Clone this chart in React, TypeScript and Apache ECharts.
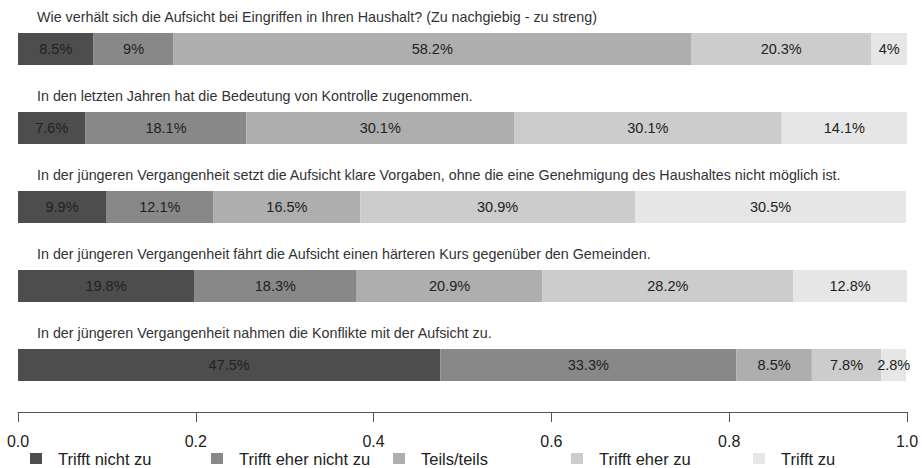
import React, { useEffect, useRef } from "react";
import * as echarts from "echarts";

const questions = [
  "Wie verhält sich die Aufsicht bei Eingriffen in Ihren Haushalt? (Zu nachgiebig - zu streng)",
  "In den letzten Jahren hat die Bedeutung von Kontrolle zugenommen.",
  "In der jüngeren Vergangenheit setzt die Aufsicht klare Vorgaben, ohne die eine Genehmigung des Haushaltes nicht möglich ist.",
  "In der jüngeren Vergangenheit fährt die Aufsicht einen härteren Kurs gegenüber den Gemeinden.",
  "In der jüngeren Vergangenheit nahmen die Konflikte mit der Aufsicht zu.",
];

const responseLevels = [
  "Trifft nicht zu",
  "Trifft eher nicht zu",
  "Teils/teils",
  "Trifft eher zu",
  "Trifft zu",
];

// percent per question, for each response level
const trifftNichtZu = [8.5, 7.6, 9.9, 19.8, 47.5];
const trifftEherNichtZu = [9, 18.1, 12.1, 18.3, 33.3];
const teilsTeils = [58.2, 30.1, 16.5, 20.9, 8.5];
const trifftEherZu = [20.3, 30.1, 30.9, 28.2, 7.8];
const trifftZu = [4, 14.1, 30.5, 12.8, 2.8];

const seriesValues = [trifftNichtZu, trifftEherNichtZu, teilsTeils, trifftEherZu, trifftZu];

const xTicks = [0, 0.2, 0.4, 0.6, 0.8, 1.0];

const colors = ["#4D4D4D", "#888888", "#AEAEAE", "#CCCCCC", "#E6E6E6"];
const legendLefts = [30, 211, 393, 571, 753];

export default function App() {
  const ref = useRef<HTMLDivElement>(null);
  useEffect(() => {
    if (!ref.current) return;
    const chart = echarts.init(ref.current, null, { renderer: "svg" });
    const font = "'Liberation Sans', Arial, Helvetica, sans-serif";
    chart.setOption({
      animation: false,
      backgroundColor: "#ffffff",
      textStyle: { fontFamily: font },
      grid: { left: 18, right: 17, top: 9.5, bottom: 468 - 404.5, containLabel: false },
      legend: responseLevels.map((name, i) => ({
        left: legendLefts[i],
        top: 450,
        padding: 0,
        itemWidth: 12,
        itemHeight: 11,
        icon: "rect",
        selectedMode: false,
        data: [name],
        textStyle: {
          fontFamily: font,
          fontSize: 16.5,
          lineHeight: 15,
          color: "#222",
          padding: [0, 0, 0, 11],
        },
      })),
      xAxis: {
        type: "value",
        min: xTicks[0],
        max: xTicks[xTicks.length - 1],
        interval: 0.2,
        offset: 7.5,
        splitLine: { show: false },
        axisLine: { show: true, lineStyle: { color: "#555", width: 1 } },
        axisTick: { show: true, length: 10, lineStyle: { color: "#555" } },
        axisLabel: {
          fontSize: 16,
          lineHeight: 15,
          color: "#222",
          margin: 22,
          formatter: (v: number) => v.toFixed(1),
        },
      },
      yAxis: {
        type: "category",
        inverse: true,
        data: questions,
        axisLine: { show: false },
        axisTick: { show: false },
        splitLine: { show: false },
        axisLabel: {
          inside: true,
          interval: 0,
          margin: 19,
          align: "left",
          verticalAlign: "bottom",
          padding: [0, 0, 25, 0],
          fontSize: 14.3,
          color: "#333",
        },
      },
      series: responseLevels.map((name, i) => ({
        name,
        type: "bar",
        stack: "total",
        barWidth: 32,
        itemStyle: { color: colors[i] },
        label: {
          show: true,
          position: "inside",
          fontSize: 14.5,
          color: "#222",
          formatter: (p: any) => seriesValues[i][p.dataIndex] + "%",
        },
        data: seriesValues[i].map((v) => v / 100),
      })),
    });
    return () => chart.dispose();
  }, []);
  return (
    <div
      ref={ref}
      style={{ position: "fixed", left: 0, top: 0, width: 924, height: 468 }}
    />
  );
}
